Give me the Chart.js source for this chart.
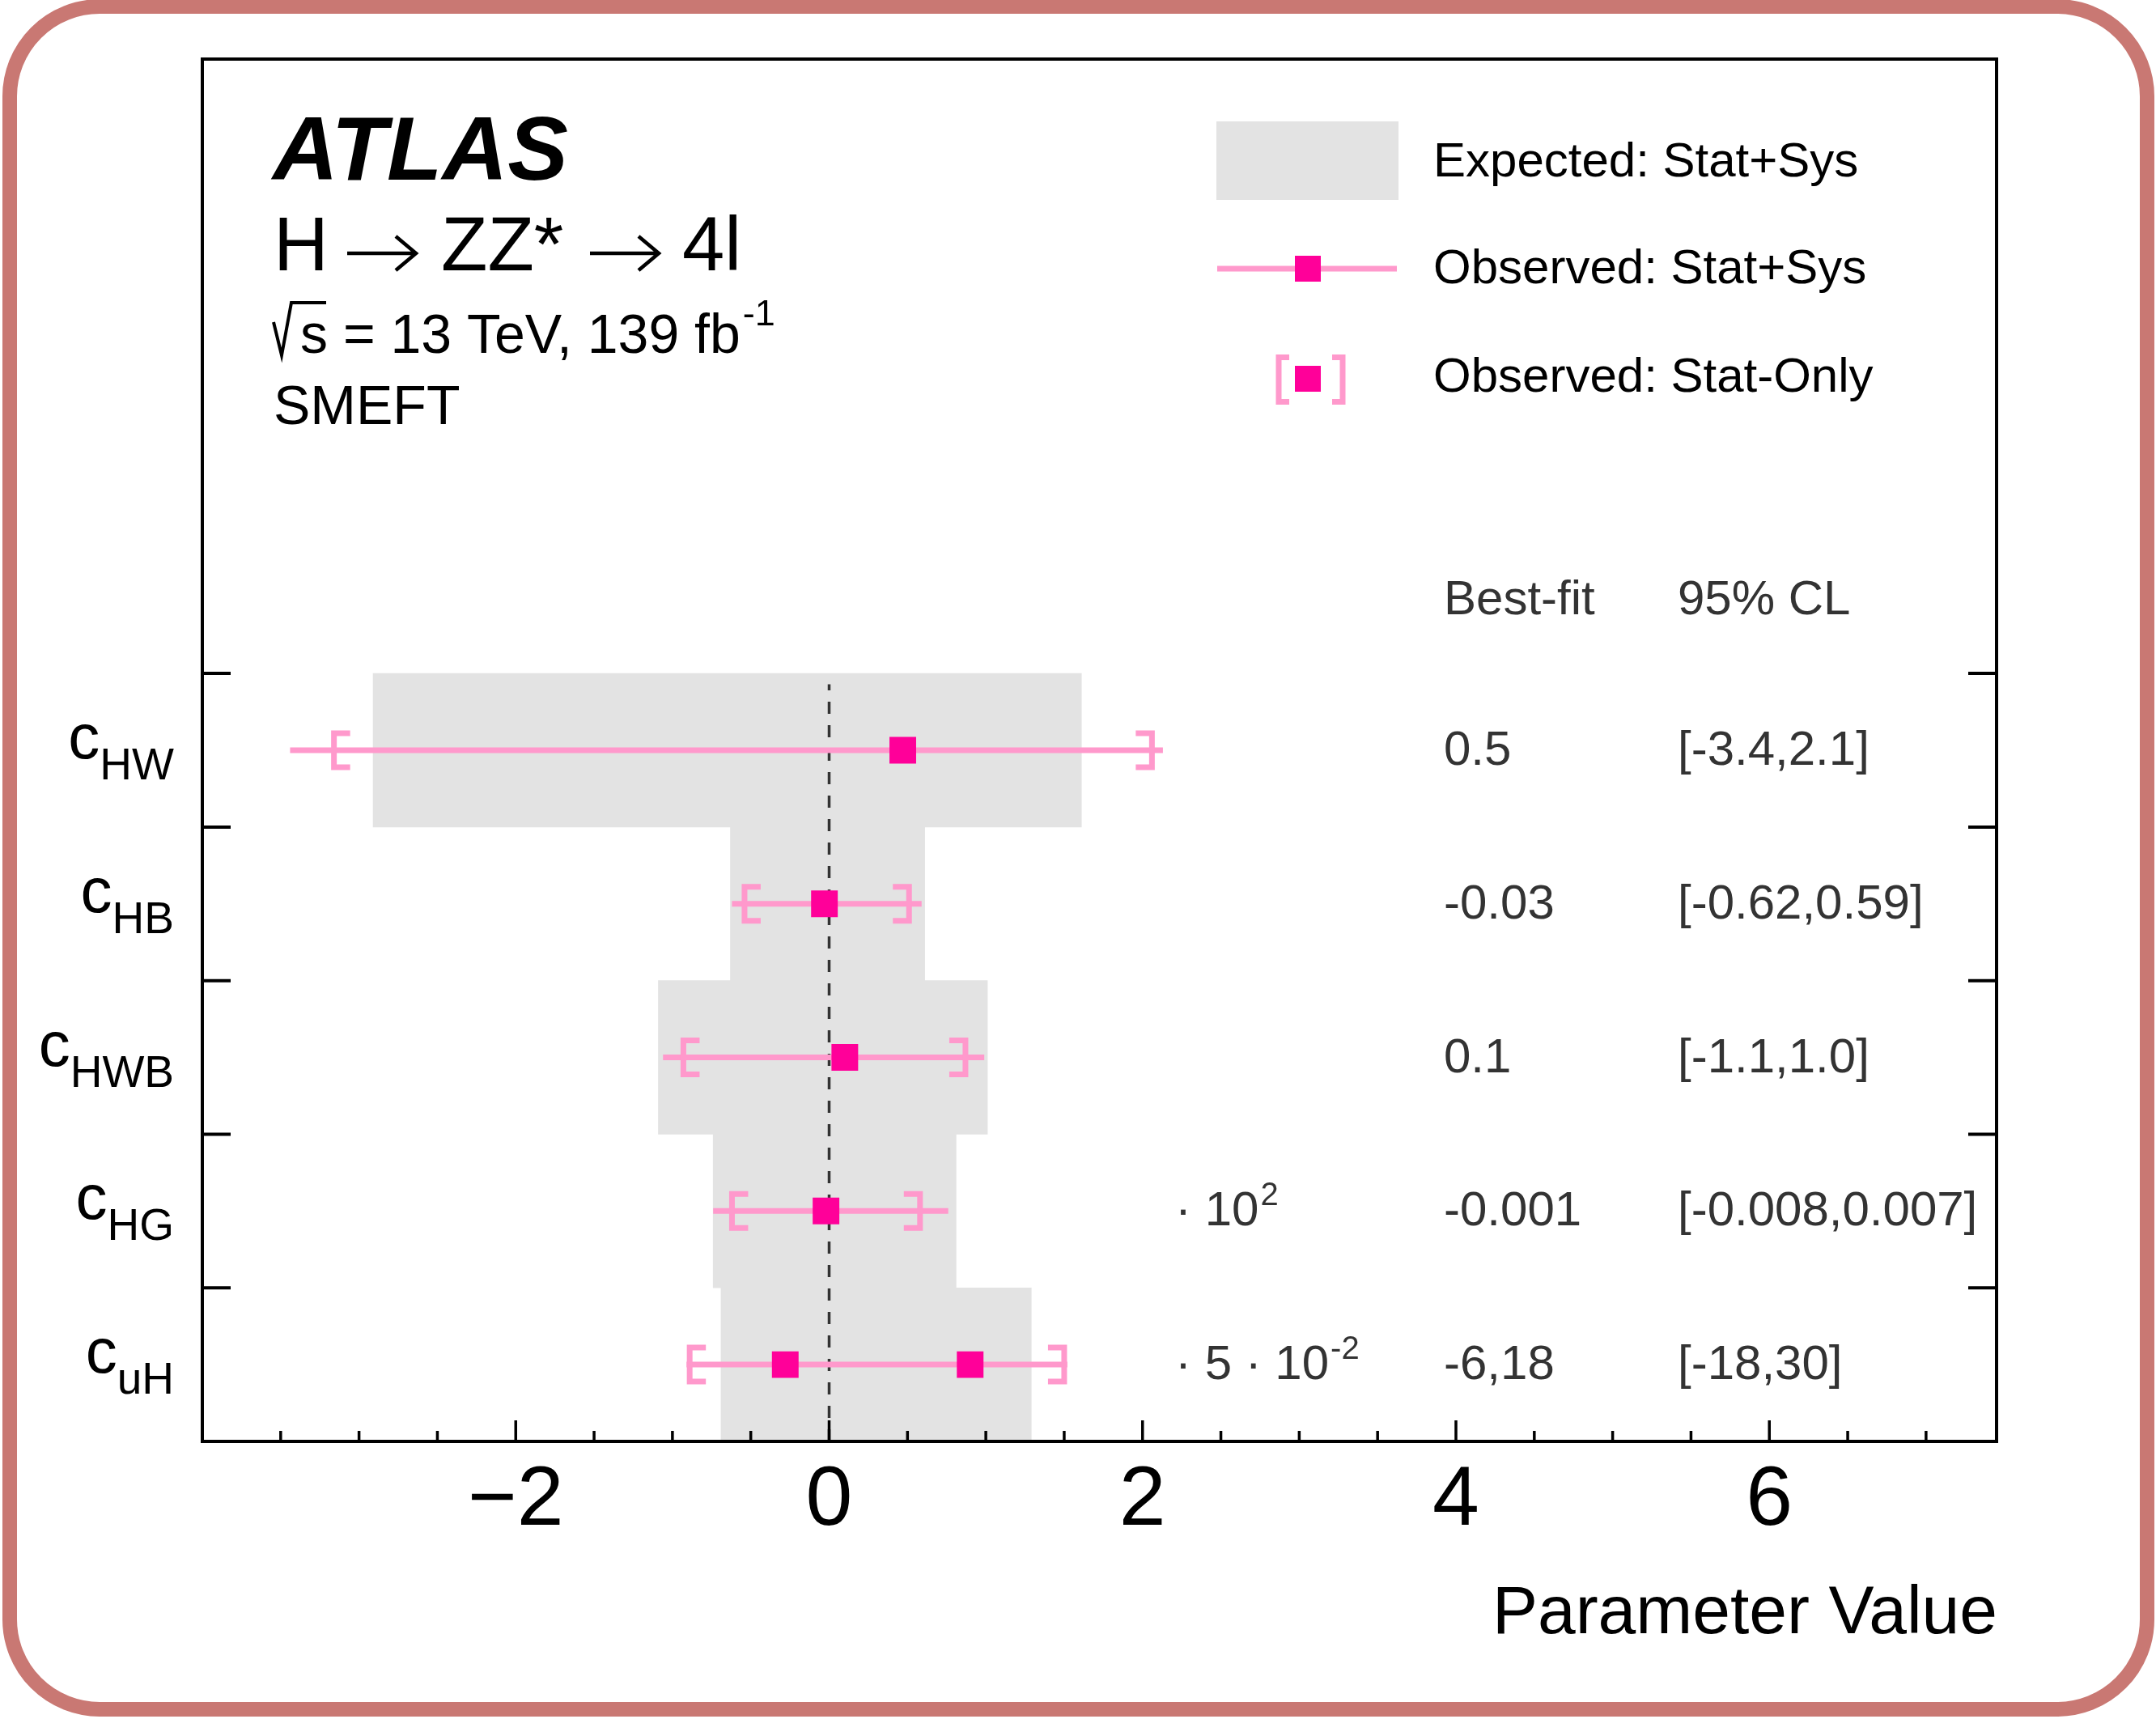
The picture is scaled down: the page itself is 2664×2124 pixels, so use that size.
<!DOCTYPE html>
<html>
<head>
<meta charset="utf-8">
<title>ATLAS H → ZZ* → 4l SMEFT</title>
<script src="https://cdn.jsdelivr.net/npm/chart.js@4.4.0/dist/chart.umd.min.js"></script>
<style>
  html, body { margin: 0; padding: 0; background: #fff; }
  #wrap { position: relative; width: 2664px; height: 2124px; overflow: hidden; }
  #chart { position: absolute; left: 0; top: 0; }
  #border {
    position: absolute; left: 3px; top: -1px; width: 2659px; height: 2122px;
    box-sizing: border-box; border: 18px solid #c97873; border-radius: 120px;
    pointer-events: none;
  }
</style>
</head>
<body>
<div id="wrap">
  <canvas id="chart" width="2664" height="2124"></canvas>
  <div id="border"></div>
</div>
<script>
// Wilson coefficients (subscript part), top to bottom
const params = ["HW", "HB", "HWB", "HG", "uH"];
const rows = [4.5, 3.5, 2.5, 1.5, 0.5];

// Expected: Stat+Sys band
const expLo = [-2.91, -0.63, -1.09, -0.74, -0.69];
const expHi = [1.61, 0.61, 1.01, 0.81, 1.29];

// Observed best fit (c_uH has two minima)
const bestFit = [0.47, -0.03, 0.10, -0.02, -0.28];
const secondMin = [null, null, null, null, 0.90];

// Observed: Stat+Sys interval
const obsLo = [-3.44, -0.62, -1.06, -0.74, -0.91];
const obsHi = [2.13, 0.59, 0.99, 0.76, 1.52];

// Observed: Stat-Only interval
const statLo = [-3.16, -0.54, -0.93, -0.62, -0.89];
const statHi = [2.06, 0.51, 0.87, 0.58, 1.50];

// table on the right
const bestText = ["0.5", "-0.03", "0.1", "-0.001", "-6,18"];
const clText = ["[-3.4,2.1]", "[-0.62,0.59]", "[-1.1,1.0]", "[-0.008,0.007]", "[-18,30]"];
const scaleNote = [null, null, null, ["· 10", "2"], ["· 5 · 10", "-2"]];

const xTicks = [-2, 0, 2, 4, 6];
const xTickLabels = ["−2", "0", "2", "4", "6"];
const rowEdges = [1, 2, 3, 4, 5];

const legendLabels = ["Expected: Stat+Sys", "Observed: Stat+Sys", "Observed: Stat-Only"];

const FONT = '"Liberation Sans", Arial, Helvetica, sans-serif';
const PINK = "#ff0099";
const LIGHT = "#ff99cc";
const GREY = "#e3e3e3";

function txt(ctx, s, x, y, size, opts) {
  opts = opts || {};
  ctx.font = (opts.style || "") + " " + (opts.weight || "") + " " + size + "px " + FONT;
  ctx.fillStyle = opts.color || "#000";
  ctx.textAlign = opts.align || "left";
  ctx.textBaseline = "alphabetic";
  ctx.fillText(s, x, y);
  return ctx.measureText(s).width;
}

// '[' for dir = 1, ']' for dir = -1
function bracket(ctx, x, y, h, s, dir) {
  ctx.beginPath();
  ctx.moveTo(x + dir * s, y - h / 2);
  ctx.lineTo(x, y - h / 2);
  ctx.lineTo(x, y + h / 2);
  ctx.lineTo(x + dir * s, y + h / 2);
  ctx.stroke();
}

function arrow(ctx, x1, x2, y) {
  ctx.beginPath();
  ctx.moveTo(x1, y);
  ctx.lineTo(x2, y);
  ctx.moveTo(x2 - 25, y - 21);
  ctx.lineTo(x2, y);
  ctx.lineTo(x2 - 25, y + 21);
  ctx.stroke();
}

function square(ctx, x, y, side) {
  ctx.fillStyle = PINK;
  ctx.fillRect(x - side / 2, y - side / 2, side, side);
}

const decor = {
  id: "decor",
  afterDatasetsDraw(chart) {
    const { ctx, scales: { x, y } } = chart;
    ctx.save();
    ctx.strokeStyle = LIGHT;
    ctx.lineWidth = 7;
    ctx.lineJoin = "miter";
    ctx.lineCap = "butt";
    rows.forEach((r, i) => {
      const py = y.getPixelForValue(r);
      bracket(ctx, x.getPixelForValue(statLo[i]), py, 42, 20, 1);
      bracket(ctx, x.getPixelForValue(statHi[i]), py, 42, 20, -1);
    });
    ctx.restore();
  },
  afterDraw(chart) {
    const { ctx, chartArea: a, scales: { x, y } } = chart;
    ctx.save();

    // frame
    ctx.strokeStyle = "#000";
    ctx.lineWidth = 4;
    ctx.strokeRect(a.left, a.top, a.right - a.left, a.bottom - a.top);

    // x ticks (inward)
    ctx.lineWidth = 3.5;
    for (let v = x.min + 0.5; v < x.max; v += 0.5) {
      const px = x.getPixelForValue(v);
      const len = xTicks.includes(v) ? 26 : 13;
      ctx.beginPath();
      ctx.moveTo(px, a.bottom);
      ctx.lineTo(px, a.bottom - len);
      ctx.stroke();
    }
    // y ticks at row edges, both sides
    ctx.lineWidth = 4;
    rowEdges.forEach(v => {
      const py = y.getPixelForValue(v);
      ctx.beginPath();
      ctx.moveTo(a.left, py); ctx.lineTo(a.left + 35, py);
      ctx.moveTo(a.right, py); ctx.lineTo(a.right - 35, py);
      ctx.stroke();
    });

    // x tick labels and title
    xTicks.forEach((v, i) => {
      txt(ctx, xTickLabels[i], x.getPixelForValue(v), a.bottom + 103, 104, { align: "center" });
    });
    txt(ctx, "Parameter Value", a.right + 1, 2018, 84, { align: "right" });

    // category labels c_XX
    rows.forEach((r, i) => {
      const py = y.getPixelForValue(r);
      ctx.font = "78px " + FONT;
      const wc = ctx.measureText("c").width;
      ctx.font = "55px " + FONT;
      const wsub = ctx.measureText(params[i]).width;
      const x0 = a.left - 35 - wc - wsub;
      txt(ctx, "c", x0, py + 10, 78);
      txt(ctx, params[i], x0 + wc, py + 36, 55);
    });

    // table
    txt(ctx, "Best-fit", 1784, 759, 60, { color: "#333" });
    txt(ctx, "95% CL", 2073, 759, 60, { color: "#333" });
    rows.forEach((r, i) => {
      const py = y.getPixelForValue(r) + 18;
      txt(ctx, bestText[i], 1784, py, 60, { color: "#333" });
      txt(ctx, clText[i], 2073, py, 60, { color: "#333" });
      if (scaleNote[i]) {
        const w = txt(ctx, scaleNote[i][0], 1452, py, 60, { color: "#333" });
        txt(ctx, scaleNote[i][1], 1452 + w + 2, py - 25, 40, { color: "#333" });
      }
    });

    // ATLAS label block
    txt(ctx, "ATLAS", 337, 222, 112, { style: "italic", weight: "bold" });
    txt(ctx, "H", 338, 334, 94);
    txt(ctx, "ZZ*", 545, 334, 94);
    txt(ctx, "4l", 843, 334, 94);
    ctx.strokeStyle = "#000";
    ctx.lineWidth = 4.5;
    ctx.lineJoin = "miter";
    arrow(ctx, 429, 514, 313);
    arrow(ctx, 729, 814, 313);

    ctx.lineWidth = 4;
    ctx.beginPath();
    ctx.moveTo(338, 398);
    ctx.lineTo(348, 439);
    ctx.lineTo(360, 374);
    ctx.lineTo(403, 374);
    ctx.stroke();
    let cx = 371;
    cx += txt(ctx, "s", cx, 436, 68);
    cx += txt(ctx, " = 13 TeV, 139 fb", cx, 436, 68);
    txt(ctx, "-1", cx + 3, 402, 45);
    txt(ctx, "SMEFT", 338, 524, 68);

    // legend
    ctx.fillStyle = GREY;
    ctx.fillRect(1503, 150, 225, 97);
    txt(ctx, legendLabels[0], 1771, 218, 60);

    ctx.strokeStyle = LIGHT;
    ctx.lineWidth = 7;
    ctx.beginPath();
    ctx.moveTo(1504, 332);
    ctx.lineTo(1726, 332);
    ctx.stroke();
    square(ctx, 1616, 332, 32);
    txt(ctx, legendLabels[1], 1771, 350, 60);

    bracket(ctx, 1580, 469, 55, 13, 1);
    bracket(ctx, 1659, 469, 55, 13, -1);
    square(ctx, 1616, 468, 32);
    txt(ctx, legendLabels[2], 1771, 484, 60);

    ctx.restore();
  }
};

// stat+sys lines, one segment per row
const obsLine = [];
rows.forEach((r, i) => {
  obsLine.push({ x: obsLo[i], y: r }, { x: obsHi[i], y: r }, { x: null, y: null });
});

const bestPoints = rows.map((r, i) => ({ x: bestFit[i], y: r }));
secondMin.forEach((v, i) => {
  if (v !== null) bestPoints.push({ x: v, y: rows[i] });
});

const ctx = document.getElementById("chart").getContext("2d");
new Chart(ctx, {
  type: "bar",
  data: {
    datasets: [
      {
        type: "bar",
        label: legendLabels[0],
        indexAxis: "y",
        data: rows.map((r, i) => ({ x: [expLo[i], expHi[i]], y: r })),
        backgroundColor: GREY,
        borderWidth: 0,
        barPercentage: 1,
        categoryPercentage: 1,
        order: 5
      },
      {
        type: "line",
        label: "zero",
        indexAxis: "x",
        data: [{ x: 0, y: 0 }, { x: 0, y: 4.93 }],
        borderColor: "#333",
        borderWidth: 3.5,
        borderDash: [15, 14],
        pointRadius: 0,
        order: 4
      },
      {
        type: "line",
        label: legendLabels[1],
        indexAxis: "x",
        data: obsLine,
        borderColor: LIGHT,
        borderWidth: 7,
        pointRadius: 0,
        spanGaps: false,
        order: 3
      },
      {
        type: "scatter",
        label: "best fit",
        indexAxis: "x",
        data: bestPoints,
        pointStyle: "rect",
        pointRadius: 23.3,
        pointBackgroundColor: PINK,
        pointBorderWidth: 0,
        backgroundColor: PINK,
        borderWidth: 0,
        order: 1
      }
    ]
  },
  options: {
    responsive: false,
    animation: false,
    devicePixelRatio: 1,
    events: [],
    layout: { padding: { left: 250, right: 197, top: 73, bottom: 343 } },
    scales: {
      x: { type: "linear", min: -4, max: 7.45, offset: false, display: false, grid: { offset: false } },
      y: { type: "linear", min: 0, max: 9, offset: false, display: false, grid: { offset: false }, ticks: { stepSize: 1 } }
    },
    plugins: {
      legend: { display: false },
      tooltip: { enabled: false }
    }
  },
  plugins: [decor]
});
</script>
</body>
</html>
